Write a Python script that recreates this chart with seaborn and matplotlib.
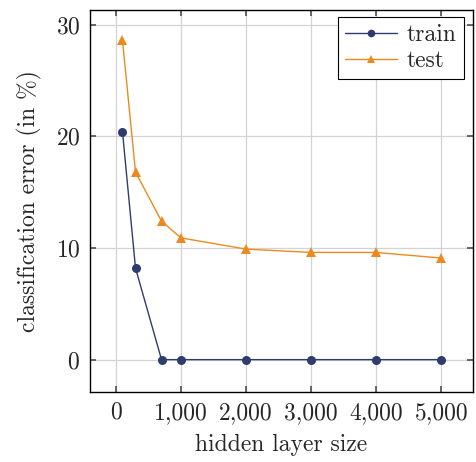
import pandas as pd
import seaborn as sns
import matplotlib.pyplot as plt
from matplotlib.ticker import FuncFormatter

# values
hidden_size = [100, 300, 700, 1000, 2000, 3000, 4000, 5000]
train_err = [20.4, 8.2, 0, 0, 0, 0, 0, 0]
test_err = [28.6, 16.8, 12.4, 10.9, 9.9, 9.6, 9.6, 9.1]

df = pd.DataFrame({
    'hidden layer size': hidden_size * 2,
    'error': train_err + test_err,
    'set': ['train'] * len(hidden_size) + ['test'] * len(hidden_size),
})

sns.set_theme(style='whitegrid')
plt.rcParams['font.family'] = ['cmr10', 'DejaVu Serif']
plt.rcParams['mathtext.fontset'] = 'cm'
plt.rcParams['axes.formatter.use_mathtext'] = True

fig = plt.figure(figsize=(4.76, 4.62), dpi=100)
ax = fig.add_axes([0.189, 0.1515, 0.805, 0.8265])

colors = {'train': '#2f3c6e', 'test': '#ec8a1f'}
markers = {'train': 'o', 'test': '^'}
for name in ['train', 'test']:
    sub = df[df['set'] == name]
    sns.lineplot(data=sub, x='hidden layer size', y='error', ax=ax,
                 color=colors[name], marker=markers[name], markersize=6.5,
                 markeredgewidth=0, linewidth=1, label=name)

ax.set_xlim(-400, 5490)
ax.set_ylim(-2.9, 31.3)
ax.set_xticks([0, 1000, 2000, 3000, 4000, 5000])
ax.set_yticks([0, 10, 20, 30])
ax.xaxis.set_major_formatter(FuncFormatter(lambda v, p: f'{int(v):,}'))
ax.set_xlabel('hidden layer size', fontsize=17, labelpad=7)
ax.set_ylabel('classification error (in %)', fontsize=17, labelpad=10)
ax.tick_params(labelsize=17, direction='in', length=4, color='#555555',
               top=True, right=True, bottom=True, left=True, pad=7)
ax.grid(True, color='#d3d3d3', linewidth=0.9)
for s in ax.spines.values():
    s.set_color('black')
    s.set_linewidth(1)

leg = ax.legend(loc='upper right', bbox_to_anchor=(0.975, 0.982), fontsize=17,
                frameon=True, fancybox=False, edgecolor='black', framealpha=1,
                handlelength=2.2, borderaxespad=0.0, labelspacing=0.15,
                markerscale=0.85, borderpad=0.3, handletextpad=0.4)
leg.get_frame().set_linewidth(0.8)

fig.savefig('out.png', dpi=100)
